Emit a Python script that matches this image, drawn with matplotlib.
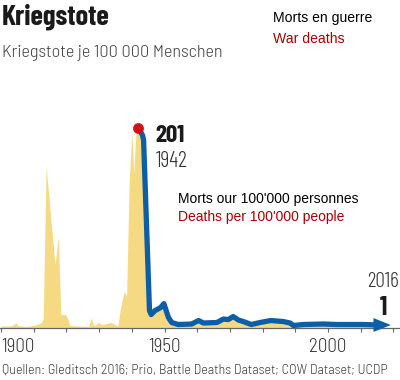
import matplotlib
matplotlib.use("Agg")
import matplotlib.pyplot as plt
from matplotlib.ticker import FixedLocator

# ---- data ----
pre_years = [1900, 1903, 1904, 1904.6, 1905.2, 1907, 1909, 1911, 1912.3, 1912.9,
             1913.8, 1916.5, 1917.5, 1918.3, 1919.8, 1920.5, 1921.1, 1926.8,
             1927.6, 1928.2, 1928.7, 1929.8, 1930.8, 1932.3, 1933.8, 1934.9,
             1935.7, 1936.4, 1937.6, 1938.4, 1939.2, 1940, 1940.6, 1941.2]
pre_values = [1.5, 1.5, 3, 5, 2, 1, 1.5, 3, 5, 9,
              162, 63, 91, 13, 13, 8, 2, 1,
              10, 3, 2, 5, 3, 4, 5, 3,
              1, 17, 36, 32, 147, 196, 155, 193]

line_years = [1942, 1943.3, 1943.6, 1945.4, 1945.9, 1947.1, 1948.8, 1949.8, 1951.2,
              1952.2, 1954.2, 1958.3, 1960.4, 1961.9, 1966, 1968, 1969.5, 1971,
              1972.6, 1974.1, 1976.5, 1979.2, 1982.5, 1986.3, 1988.4, 1989.4,
              1992.4, 1998.6, 2002.7, 2006.7, 2010.8, 2016]
line_values = [201, 193, 188, 17, 13, 17, 20, 24, 10,
               5, 3, 3.5, 7, 4.5, 5, 8.5, 8, 11,
               7.5, 6, 3, 5, 7, 6, 4.5, 2,
               3, 3.5, 3, 3, 3, 2.5]

peak_year, peak_value = 1942, 201
last_year, last_value = 2016, 1
tick_years = list(range(1900, 2021, 10))
labelled_years = [1900, 1950, 2000]

title = "Kriegstote"
subtitle = "Kriegstote je 100\u2009000 Menschen"
legend_fr = "Morts en guerre"
legend_en = "War deaths"
unit_fr = "Morts our 100'000 personnes"
unit_en = "Deaths per 100'000 people"
source = "Quellen: Gleditsch 2016; Prio, Battle Deaths Dataset; COW Dataset; UCDP"

BLUE = "#0b5ea7"
YELLOW = "#f6da83"
RED = "#cc1417"
DARKRED = "#a80000"
COND = ["Barlow Condensed", "DejaVu Sans"]
SEMI = ["Barlow Semi Condensed", "DejaVu Sans"]

W, H = 400, 380
fig = plt.figure(figsize=(W / 100, H / 100), dpi=100)
fig.patch.set_facecolor("white")

def fy(py):
    return 1 - py / H

def fx(px):
    return px / W

ax_bottom = 327.5
ax_top = 80
ax = fig.add_axes([0, fy(ax_bottom), 1, (ax_bottom - ax_top) / H])
ax.set_xlim(1899.69, 2022.0)
ax.set_ylim(0, (ax_bottom - ax_top) / 0.995)
ax.set_facecolor("none")

fill_years = pre_years + line_years
fill_values = pre_values + line_values
ax.fill_between(fill_years, 0, fill_values, color=YELLOW, lw=0, zorder=1)

ax.plot(line_years, line_values, color=BLUE, lw=3.8,
        solid_joinstyle="round", solid_capstyle="butt", zorder=3)
ax.annotate("", xy=(2019.2, line_values[-1]), xytext=(2014.0, line_values[-1]),
            arrowprops=dict(arrowstyle="-|>,head_length=1.25,head_width=0.5",
                            color=BLUE, lw=0, shrinkA=0, shrinkB=0,
                            mutation_scale=10), zorder=4)
ax.plot([peak_year], [peak_value], "o", color=RED, ms=7.8, mec="none", zorder=5)

for s in ["top", "left", "right"]:
    ax.spines[s].set_visible(False)
ax.spines["bottom"].set_color("#666666")
ax.spines["bottom"].set_linewidth(0.9)
ax.set_yticks([])
ax.xaxis.set_major_locator(FixedLocator(tick_years))
ax.tick_params(axis="x", length=3, width=0.8, color="#666666", pad=4.5,
               labelsize=13.7, labelcolor="#333333")
ax.set_xticklabels([str(y) if y in labelled_years else "" for y in tick_years])
for lab in ax.get_xticklabels():
    lab.set_family(SEMI)
    lab.set_fontweight(300)
    if lab.get_text() == "1900":
        lab.set_horizontalalignment("left")
        lab.set_x(1899.69)

# texts
fig.text(fx(2), fy(25), title, family=COND, fontweight=700, fontsize=20.6,
         color="#1a1a1a", va="baseline", ha="left")
fig.text(fx(2), fy(57.3), subtitle, family=SEMI, fontweight=300, fontsize=13.1,
         color="#444444", va="baseline", ha="left")
fig.text(fx(273), fy(21.7), legend_fr, family="Liberation Sans", fontsize=10.1,
         color="black", va="baseline", ha="left")
fig.text(fx(273), fy(43.3), legend_en, family="Liberation Sans", fontsize=10.1,
         color=DARKRED, va="baseline", ha="left")
fig.text(fx(155.7), fy(142), f"{peak_value}", family=COND, fontweight=700,
         fontsize=18, color="#1a1a1a", va="baseline", ha="left")
fig.text(fx(155.7), fy(167.3), f"{peak_year}", family=COND, fontweight=300,
         fontsize=16, color="#333333", va="baseline", ha="left")
fig.text(fx(178.3), fy(202.7), unit_fr, family="Liberation Sans", fontsize=10,
         color="black", va="baseline", ha="left")
fig.text(fx(178.3), fy(221), unit_en, family="Liberation Sans", fontsize=10,
         color=DARKRED, va="baseline", ha="left")
fig.text(fx(383.5), fy(287), f"{last_year}", family=COND, fontweight=300,
         fontsize=15.4, color="#333333", va="baseline", ha="center")
fig.text(fx(383.5), fy(315), f"{last_value}", family=COND, fontweight=700,
         fontsize=18.5, color="#1a1a1a", va="baseline", ha="center")
fig.text(fx(2), fy(374), source, family=SEMI, fontweight=300, fontsize=10.15,
         color="#444444", va="baseline", ha="left")

fig.savefig("out.png", dpi=100)
